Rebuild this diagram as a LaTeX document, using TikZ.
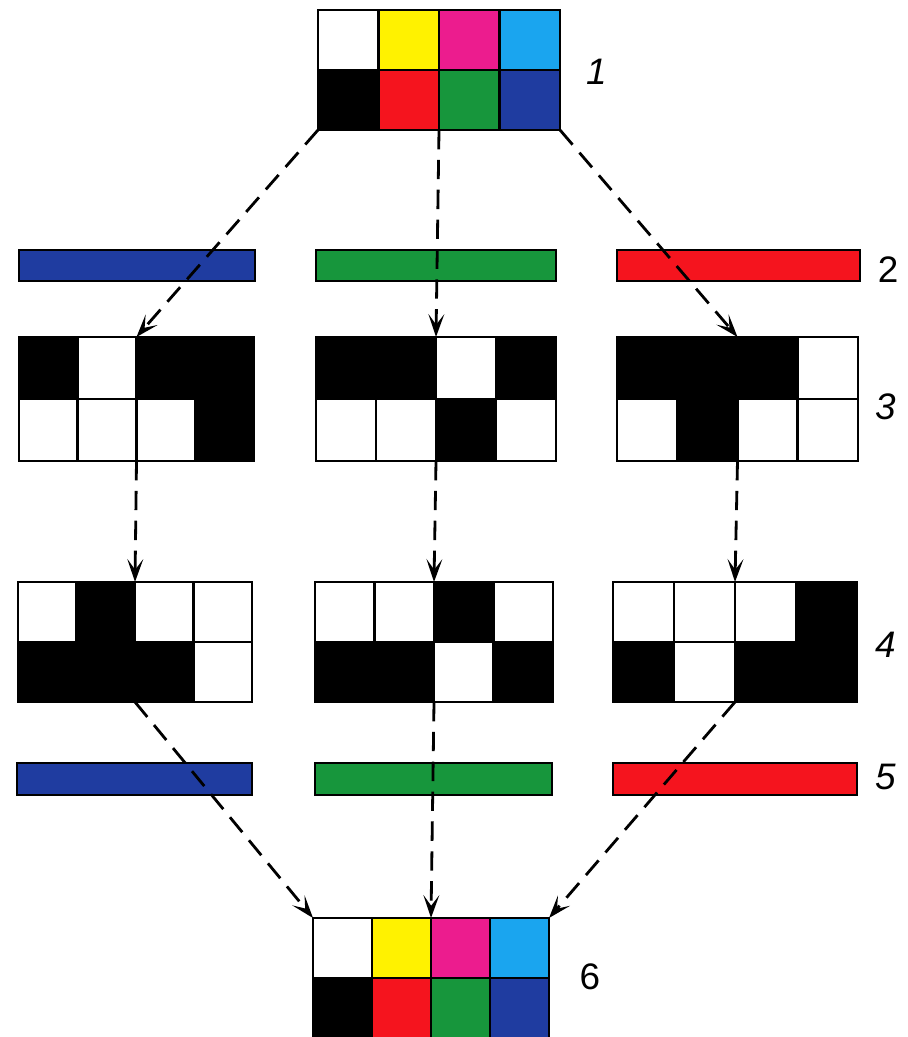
\documentclass[tikz,border=0pt]{standalone}
\usepackage{fontspec}
\setsansfont{Liberation Sans}
\usetikzlibrary{arrows.meta}

\definecolor{tileyellow}{HTML}{FFF200}
\definecolor{tilemagenta}{HTML}{EC1C8E}
\definecolor{tilecyan}{HTML}{1AA5EF}
\definecolor{tilered}{HTML}{F5141E}
\definecolor{tilegreen}{HTML}{17963C}
\definecolor{tileblue}{HTML}{1F3CA0}

\tikzset{
	tile/.style={draw, line width=1.5pt, inner sep=0pt, outer sep=0pt, anchor=north west},
	band/.style={draw, line width=1.5pt, inner sep=0pt, outer sep=0pt, anchor=north west},
	flow/.style={line width=1.6pt, dash pattern=on 11pt off 6pt, -{Stealth[length=13pt,width=9pt,inset=6pt]}},
	stage/.style={font=\sffamily\itshape\fontsize{21}{24}\selectfont},
	stageup/.style={font=\sffamily\fontsize{21}{24}\selectfont}
}

% #1 name, #2 left, #3 top, #4 width, #5 height, #6 eight cell colours
\newcommand{\tilegrid}[6]{%
	\foreach \tint [count=\k from 0] in {#6} {
		\pgfmathtruncatemacro{\cx}{mod(\k,4)}
		\pgfmathtruncatemacro{\cy}{\k/4}
		\fill[\tint] ({#2+\cx*#4/4},{#3+\cy*#5/2}) rectangle ++({#4/4},{#5/2});
	}
	\foreach \j in {1,2,3}
		\draw[line width=1.5pt] ({#2+\j*#4/4},#3) -- ++(0,#5);
	\draw[line width=1.5pt] (#2,{#3+#5/2}) -- ++(#4,0);
	\node[tile, minimum width=#4*0.02cm, minimum height=#5*0.02cm] (#1) at (#2,#3) {};
}

\begin{document}
\begin{tikzpicture}[x=0.02cm, y=-0.02cm]
	\useasboundingbox (0,0) rectangle (908,1037);

	% source and result
	\tilegrid{g1}{318}{10}{242}{120}{white,tileyellow,tilemagenta,tilecyan,black,tilered,tilegreen,tileblue}
	\tilegrid{g6}{313}{918}{236}{120}{white,tileyellow,tilemagenta,tilecyan,black,tilered,tilegreen,tileblue}

	% filters
	\node[band, fill=tileblue, minimum width=236*0.02cm, minimum height=31*0.02cm] (b2a) at (19,250) {};
	\node[band, fill=tilegreen, minimum width=240*0.02cm, minimum height=31*0.02cm] (b2b) at (316,250) {};
	\node[band, fill=tilered, minimum width=243*0.02cm, minimum height=31*0.02cm] (b2c) at (617,250) {};
	\node[band, fill=tileblue, minimum width=235*0.02cm, minimum height=32*0.02cm] (b5a) at (17,763) {};
	\node[band, fill=tilegreen, minimum width=237*0.02cm, minimum height=32*0.02cm] (b5b) at (315,763) {};
	\node[band, fill=tilered, minimum width=244*0.02cm, minimum height=32*0.02cm] (b5c) at (613,763) {};

	% negatives
	\tilegrid{g3a}{19}{337}{235}{124}{black,white,black,black,white,white,white,black}
	\tilegrid{g3b}{316}{337}{240}{124}{black,black,white,black,white,white,black,white}
	\tilegrid{g3c}{617}{337}{241}{124}{black,black,black,white,white,black,white,white}

	% positives
	\tilegrid{g4a}{18}{582}{234}{120}{white,black,white,white,black,black,black,white}
	\tilegrid{g4b}{315}{582}{238}{120}{white,white,black,white,black,black,white,black}
	\tilegrid{g4c}{613}{582}{244}{120}{white,white,white,black,black,white,black,black}

	\draw[flow] (g1.south west) -- (g3a.north);
	\draw[flow] (g1.south) -- (g3b.north);
	\draw[flow] (g1.south east) -- (g3c.north);
	\draw[flow] (g3a.south) -- (g4a.north);
	\draw[flow] (g3b.south) -- (g4b.north);
	\draw[flow] (g3c.south) -- (g4c.north);
	\draw[flow] (g4a.south) -- (g6.north west);
	\draw[flow] (g4b.south) -- (g6.north);
	\draw[flow] (g4c.south) -- (g6.north east);

	\node[stage] (n1) at (597,72) {1};
	\node[stageup] (n2) at (888,270) {2};
	\node[stage] (n3) at (886,407) {3};
	\node[stage] (n4) at (886,645) {4};
	\node[stage] (n5) at (886,777) {5};
	\node[stageup] (n6) at (590,977) {6};
\end{tikzpicture}
\end{document}
